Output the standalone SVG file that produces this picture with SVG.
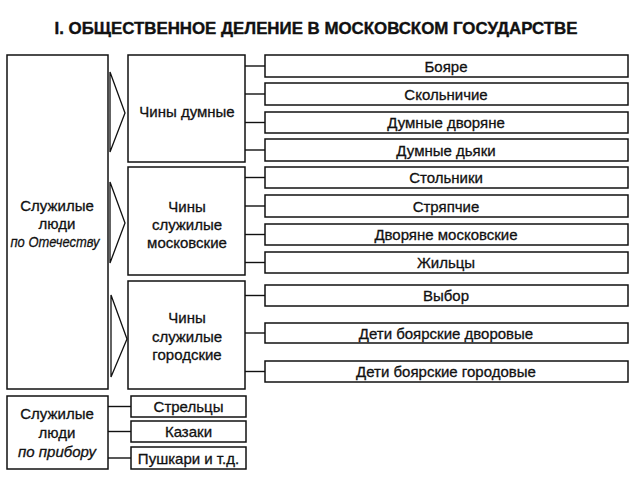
<svg xmlns="http://www.w3.org/2000/svg" width="640" height="480" viewBox="0 0 640 480">
<style>
.box{fill:#fff;stroke:#111;stroke-width:1.5}
.chev{fill:none;stroke:#111;stroke-width:1.3;stroke-linejoin:miter}
.ln{stroke:#111;stroke-width:1.4;fill:none}
text{font-family:"Liberation Sans",Arial,sans-serif;font-size:15px;fill:#111;stroke:#111;stroke-width:0.3;text-anchor:middle}
.it{font-style:italic}
.title{font-weight:bold;font-size:17px;stroke-width:0.4}
</style>
<rect width="640" height="480" fill="#fff"/>
<text class="title" x="316" y="34" textLength="523" lengthAdjust="spacingAndGlyphs">I. ОБЩЕСТВЕННОЕ ДЕЛЕНИЕ В МОСКОВСКОМ ГОСУДАРСТВЕ</text>

<g id="connectors">
<line class="ln" x1="245" y1="66" x2="265" y2="66"/>
<line class="ln" x1="245" y1="94" x2="265" y2="94"/>
<line class="ln" x1="245" y1="122.5" x2="265" y2="122.5"/>
<line class="ln" x1="245" y1="150" x2="265" y2="150"/>
<line class="ln" x1="245" y1="177.5" x2="265" y2="177.5"/>
<line class="ln" x1="245" y1="206" x2="265" y2="206"/>
<line class="ln" x1="245" y1="234.5" x2="265" y2="234.5"/>
<line class="ln" x1="245" y1="262.5" x2="265" y2="262.5"/>
<line class="ln" x1="245" y1="295.5" x2="265" y2="295.5"/>
<line class="ln" x1="245" y1="333" x2="265" y2="333"/>
<line class="ln" x1="245" y1="371.5" x2="265" y2="371.5"/>
<line class="ln" x1="108" y1="406.5" x2="131" y2="406.5"/>
<line class="ln" x1="108" y1="431.5" x2="131" y2="431.5"/>
<line class="ln" x1="108" y1="458" x2="131" y2="458"/>
<polygon class="chev" points="110,72 125,113 110,152"/>
<polygon class="chev" points="110,182 125,223 110,263"/>
<polygon class="chev" points="111,295 127,339 111,377"/>
</g>

<g id="po-otechestvu">
<rect class="box" x="7" y="55" width="101" height="334"/>
<text x="57" y="211">Служилые</text>
<text x="57" y="229">люди</text>
<text class="it" x="55" y="247" textLength="89" lengthAdjust="spacingAndGlyphs">по Отечеству</text>
</g>

<g id="chiny-dumnye">
<rect class="box" x="128" y="55" width="117" height="107"/>
<text x="187" y="117">Чины думные</text>
</g>
<g id="chiny-moskovskie">
<rect class="box" x="128" y="167" width="117" height="108"/>
<text x="187" y="212">Чины</text>
<text x="187" y="230">служилые</text>
<text x="187" y="248">московские</text>
</g>
<g id="chiny-gorodskie">
<rect class="box" x="128" y="281" width="117" height="108"/>
<text x="187" y="323">Чины</text>
<text x="187" y="341.5">служилые</text>
<text x="187" y="360">городские</text>
</g>

<g id="boyare"><rect class="box" x="265" y="55" width="363" height="22"/><text x="446" y="71.5">Бояре</text></g>
<g id="okolnichie"><rect class="box" x="265" y="83" width="363" height="22"/><text x="446" y="99.5">Скольничие</text></g>
<g id="dumnye-dvoryane"><rect class="box" x="265" y="112" width="363" height="21"/><text x="446" y="128">Думные дворяне</text></g>
<g id="dumnye-dyaki"><rect class="box" x="265" y="139" width="363" height="22"/><text x="446" y="155.5">Думные дьяки</text></g>
<g id="stolniki"><rect class="box" x="265" y="167" width="363" height="21"/><text x="446" y="183">Стольники</text></g>
<g id="stryapchie"><rect class="box" x="265" y="195" width="363" height="22"/><text x="446" y="211.5">Стряпчие</text></g>
<g id="dvoryane-moskovskie"><rect class="box" x="265" y="224" width="363" height="21"/><text x="446" y="240">Дворяне московские</text></g>
<g id="zhiltsy"><rect class="box" x="265" y="252" width="363" height="21"/><text x="446" y="268">Жильцы</text></g>
<g id="vybor"><rect class="box" x="265" y="285" width="363" height="21"/><text x="446" y="301">Выбор</text></g>
<g id="deti-dvorovye"><rect class="box" x="265" y="323" width="363" height="20"/><text x="446" y="338.5">Дети боярские дворовые</text></g>
<g id="deti-gorodovye"><rect class="box" x="265" y="361" width="363" height="21"/><text x="446" y="377">Дети боярские городовые</text></g>

<g id="po-priboru">
<rect class="box" x="7" y="396" width="101" height="73"/>
<text x="57" y="419">Служилые</text>
<text x="57" y="438">люди</text>
<text class="it" x="57" y="457">по прибору</text>
</g>
<g id="streltsy"><rect class="box" x="131" y="396" width="115" height="21"/><text x="188.5" y="412">Стрельцы</text></g>
<g id="kazaki"><rect class="box" x="131" y="421" width="115" height="21"/><text x="188.5" y="437">Казаки</text></g>
<g id="pushkari"><rect class="box" x="131" y="447" width="115" height="22"/><text x="188.5" y="463.5">Пушкари и т.д.</text></g>
</svg>
